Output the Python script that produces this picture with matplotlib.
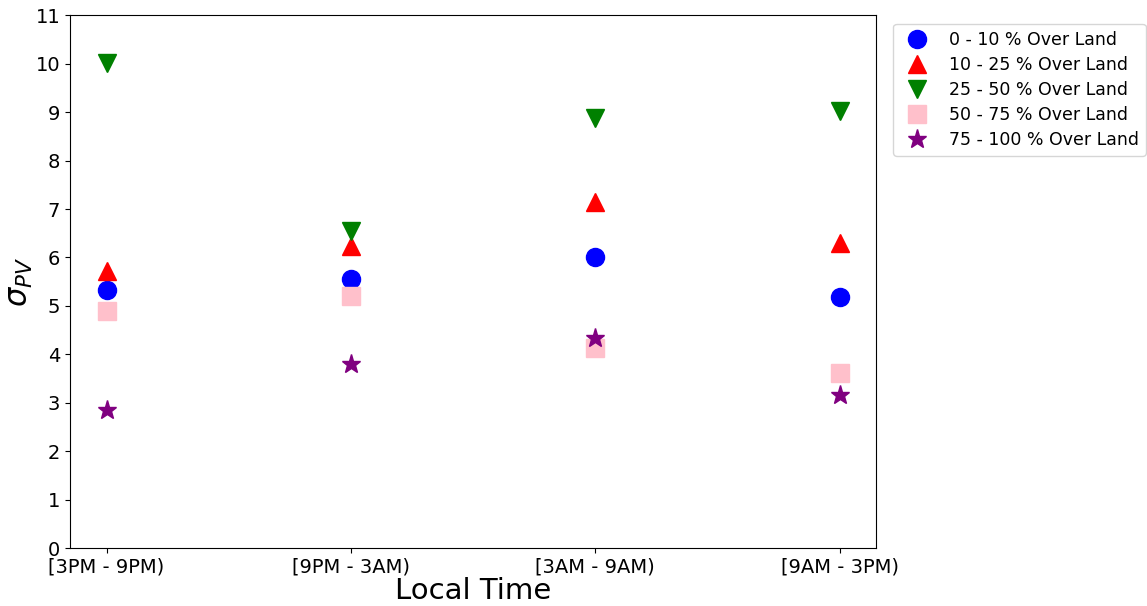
import matplotlib
matplotlib.use('Agg')
import matplotlib.pyplot as plt
import numpy as np

# time-of-day bins
time_bins = ['[3PM - 9PM)', '[9PM - 3AM)', '[3AM - 9AM)', '[9AM - 3PM)']

# sigma_PV per land-fraction class
land_0_10 = [5.32, 5.55, 6.01, 5.18]
land_10_25 = [5.72, 6.23, 7.14, 6.30]
land_25_50 = [10.01, 6.54, 8.88, 9.02]
land_50_75 = [4.89, 5.20, 4.13, 3.61]
land_75_100 = [2.85, 3.80, 4.33, 3.16]

labels = ['0 - 10 % Over Land', '10 - 25 % Over Land', '25 - 50 % Over Land',
          '50 - 75 % Over Land', '75 - 100 % Over Land']

fig = plt.figure(figsize=(11.47, 6.06), dpi=100)
ax = fig.add_axes([0.061, 0.0957, 0.703, 0.879])

x = np.arange(len(time_bins))
ax.plot(x, land_0_10, 'o', color='blue', markersize=13, label=labels[0])
ax.plot(x, land_10_25, '^', color='red', markersize=13, label=labels[1])
ax.plot(x, land_25_50, 'v', color='green', markersize=13, label=labels[2])
ax.plot(x, land_50_75, 's', color='pink', markersize=13, label=labels[3])
ax.plot(x, land_75_100, '*', color='purple', markersize=14, label=labels[4])

ax.set_xticks(x)
ax.set_xticklabels(time_bins)
ax.set_ylim(0, 11)
ax.set_yticks(range(0, 12))
ax.tick_params(labelsize=14)
ax.set_xlabel('Local Time', fontsize=21, labelpad=0)
ax.set_ylabel(r'$\sigma_{PV}$', fontsize=22, labelpad=0)

ax.legend(loc='upper left', bbox_to_anchor=(1.01, 1.0), fontsize=12.5,
          labelspacing=0.4, handletextpad=0.8)

plt.savefig('out.png')
plt.close(fig)
